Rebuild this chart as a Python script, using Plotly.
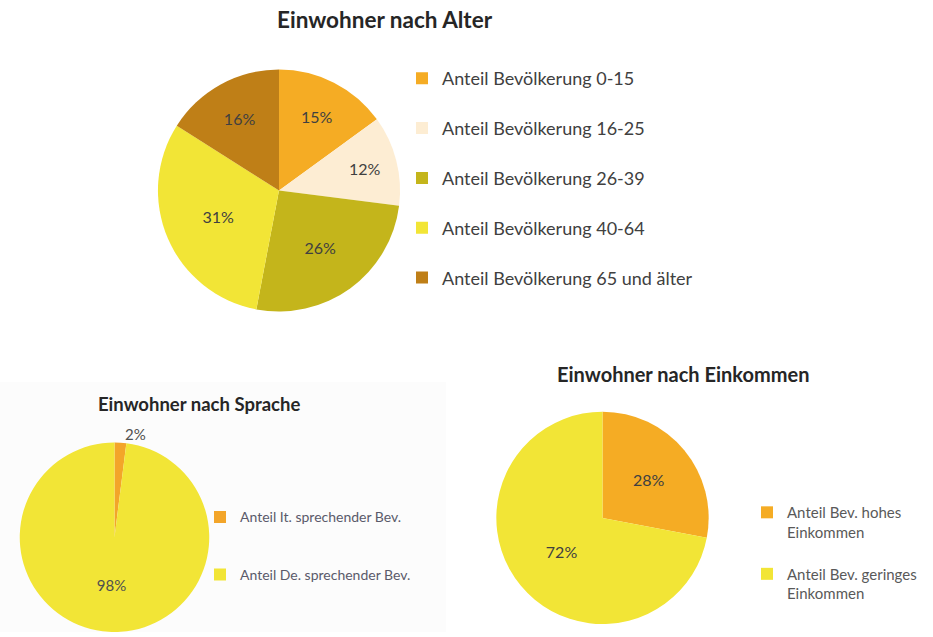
import plotly.graph_objects as go

W, H = 933, 637

# ---- data ----
alter_labels = ["Anteil Bevölkerung 0-15", "Anteil Bevölkerung 16-25", "Anteil Bevölkerung 26-39",
                "Anteil Bevölkerung 40-64", "Anteil Bevölkerung 65 und älter"]
alter_values = [15, 12, 26, 31, 16]
alter_colors = ["#F5AC24", "#FDEDD3", "#C4B51B", "#F2E536", "#BF7F17"]

sprache_labels = ["Anteil It. sprechender Bev.", "Anteil De. sprechender Bev."]
sprache_values = [2, 98]
sprache_colors = ["#F3A529", "#F2E536"]

einkommen_labels = ["Anteil Bev. hohes<br>Einkommen", "Anteil Bev. geringes<br>Einkommen"]
einkommen_values = [28, 72]
einkommen_colors = ["#F5AC24", "#F2E536"]

FONT = "Lato, 'Open Sans', sans-serif"
TXT = "#404040"


def px(x):
    return x / W


def py(y):
    return 1 - y / H


fig = go.Figure()

fig.add_trace(go.Pie(
    labels=[" <br>" + l for l in alter_labels], values=alter_values, sort=False,
    direction="clockwise", rotation=0,
    marker=dict(colors=alter_colors), texttemplate="%{percent:.0%}", textposition="inside",
    insidetextorientation="horizontal", textfont=dict(size=16, color=TXT, family=FONT),
    domain=dict(x=[px(156), px(402)], y=[py(314), py(70)]), legend="legend",
    hovertemplate="%{label}: %{value}%<extra></extra>",
))

fig.add_trace(go.Pie(
    labels=[" <br>" + l + "<br> " for l in sprache_labels], values=sprache_values, sort=False,
    direction="clockwise", rotation=0,
    marker=dict(colors=sprache_colors), texttemplate="%{percent:.0%}", textposition=["outside", "inside"],
    insidetextorientation="horizontal", textfont=dict(size=15, color="#505050", family=FONT),
    domain=dict(x=[px(17), px(212)], y=[0, py(446)]), legend="legend2",
    hovertemplate="%{label}: %{value}%<extra></extra>",
))

fig.add_trace(go.Pie(
    labels=[l + "<br> " for l in einkommen_labels], values=einkommen_values, sort=False,
    direction="clockwise", rotation=0,
    marker=dict(colors=einkommen_colors), texttemplate="%{percent:.0%}", textposition="inside",
    insidetextorientation="horizontal", textfont=dict(size=16, color=TXT, family=FONT),
    domain=dict(x=[px(495), px(710)], y=[py(629), py(415)]), legend="legend3",
    hovertemplate="%{label}: %{value}%<extra></extra>",
))

fig.update_layout(
    width=W, height=H, margin=dict(l=0, r=0, t=0, b=0),
    paper_bgcolor="white", plot_bgcolor="white",
    font=dict(family=FONT, color=TXT),
    legend=dict(x=px(402), y=py(37), xanchor="left", yanchor="top", bgcolor="rgba(0,0,0,0)",
                font=dict(size=18, color=TXT, family=FONT), valign="bottom"),
    legend2=dict(x=px(200), y=py(487), xanchor="left", yanchor="top", bgcolor="rgba(0,0,0,0)",
                 font=dict(size=14, color="#5A5A6A", family=FONT), valign="middle"),
    legend3=dict(x=px(747), y=py(500), xanchor="left", yanchor="top", bgcolor="rgba(0,0,0,0)",
                 font=dict(size=15, color="#595959", family=FONT), valign="top"),
    shapes=[dict(type="rect", xref="paper", yref="paper", x0=0, x1=px(446), y0=0, y1=py(385),
                 fillcolor="#FCFCFC", line=dict(width=0), layer="below")],
    annotations=[
        dict(text="<b>Einwohner nach Alter</b>", x=px(385), y=py(20), xref="paper", yref="paper",
             xanchor="center", yanchor="middle",
             showarrow=False, font=dict(size=22.5, color="#262626", family=FONT)),
        dict(text="<b>Einwohner nach Sprache</b>", x=px(199), y=py(407), xref="paper", yref="paper",
             xanchor="center", yanchor="middle",
             showarrow=False, font=dict(size=18.5, color="#262626", family=FONT)),
        dict(text="<b>Einwohner nach Einkommen</b>", x=px(683), y=py(377), xref="paper", yref="paper",
             xanchor="center", yanchor="middle",
             showarrow=False, font=dict(size=20, color="#262626", family=FONT)),
    ],
)

fig.write_html("out.html", config={"displayModeBar": False},
               post_script="document.body.style.margin='0px';")
